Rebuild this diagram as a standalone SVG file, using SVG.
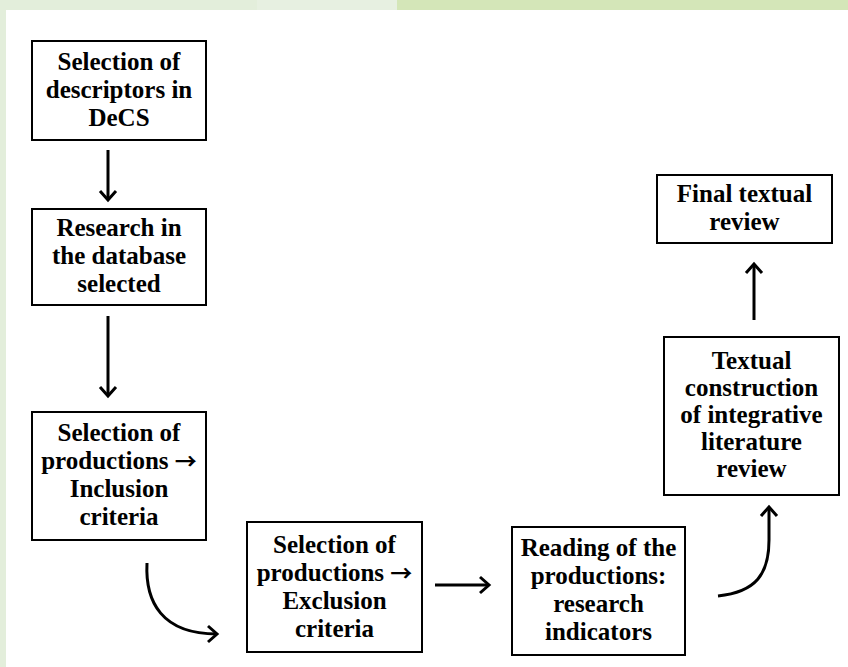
<svg xmlns="http://www.w3.org/2000/svg" width="848" height="667" viewBox="0 0 848 667">
  <style>
    .box { fill: #ffffff; stroke: #000000; stroke-width: 2; }
    .lbl { font-family: "Liberation Serif", "Times New Roman", serif; font-weight: bold; font-size: 25px; fill: #000000; text-anchor: middle; }
    .arr { font-family: "Noto Sans CJK JP", "DejaVu Sans", sans-serif; font-weight: bold; font-size: 22px; }
    .conn { fill: none; stroke: #000000; stroke-width: 3; }
  </style>
  <defs>
    <marker id="head" markerUnits="userSpaceOnUse" viewBox="-12 -10 14 20" refX="0" refY="0" markerWidth="14" markerHeight="20" orient="auto" overflow="visible">
      <path d="M-9,-8 L0,0 L-9,8" fill="none" stroke="#000000" stroke-width="3" stroke-linejoin="miter"/>
    </marker>
  </defs>

  <!-- background frame -->
  <rect x="0" y="0" width="848" height="667" fill="#ffffff"/>
  <rect x="0" y="0" width="257" height="10" fill="#e3eedb"/>
  <rect x="257" y="0" width="140" height="10" fill="#e7f0e1"/>
  <rect x="397" y="0" width="451" height="10" fill="#d4e6b8"/>
  <rect x="0" y="0" width="6" height="667" fill="#e3eedb"/>

  <g id="connectors">
    <path class="conn" d="M108,150 L108,200" marker-end="url(#head)"/>
    <path class="conn" d="M108,316 L108,396" marker-end="url(#head)"/>
    <path class="conn" d="M147,563 C145,602 162,634 217,634" marker-end="url(#head)"/>
    <path class="conn" d="M435,585 L489,585" marker-end="url(#head)"/>
    <path class="conn" d="M718,596 C756,592 769,574 769,540 L769,507" marker-end="url(#head)"/>
    <path class="conn" d="M754,320 L754,264" marker-end="url(#head)"/>
  </g>

  <g id="node-descriptors">
    <rect class="box" x="32" y="41" width="174" height="99"/>
    <text class="lbl" x="119" y="70">Selection of</text>
    <text class="lbl" x="119" y="98">descriptors in</text>
    <text class="lbl" x="119" y="126">DeCS</text>
  </g>

  <g id="node-research">
    <rect class="box" x="32" y="209" width="174" height="96"/>
    <text class="lbl" x="119" y="236">Research in</text>
    <text class="lbl" x="119" y="264">the database</text>
    <text class="lbl" x="119" y="292">selected</text>
  </g>

  <g id="node-inclusion">
    <rect class="box" x="32" y="412" width="174" height="128"/>
    <text class="lbl" x="119" y="441">Selection of</text>
    <text class="lbl" x="119" y="469">productions <tspan class="arr">→</tspan></text>
    <text class="lbl" x="119" y="497">Inclusion</text>
    <text class="lbl" x="119" y="525">criteria</text>
  </g>

  <g id="node-exclusion">
    <rect class="box" x="247" y="522" width="175" height="130"/>
    <text class="lbl" x="334.5" y="553">Selection of</text>
    <text class="lbl" x="334.5" y="581">productions <tspan class="arr">→</tspan></text>
    <text class="lbl" x="334.5" y="609">Exclusion</text>
    <text class="lbl" x="334.5" y="637">criteria</text>
  </g>

  <g id="node-reading">
    <rect class="box" x="512" y="527" width="173" height="128"/>
    <text class="lbl" x="598.5" y="556">Reading of the</text>
    <text class="lbl" x="598.5" y="584">productions:</text>
    <text class="lbl" x="598.5" y="612">research</text>
    <text class="lbl" x="598.5" y="640">indicators</text>
  </g>

  <g id="node-construction">
    <rect class="box" x="664" y="337" width="175" height="158"/>
    <text class="lbl" x="751.5" y="369">Textual</text>
    <text class="lbl" x="751.5" y="396">construction</text>
    <text class="lbl" x="751.5" y="423">of integrative</text>
    <text class="lbl" x="751.5" y="450">literature</text>
    <text class="lbl" x="751.5" y="477">review</text>
  </g>

  <g id="node-final">
    <rect class="box" x="657" y="175" width="175" height="68"/>
    <text class="lbl" x="744.5" y="202">Final textual</text>
    <text class="lbl" x="744.5" y="230">review</text>
  </g>
</svg>
